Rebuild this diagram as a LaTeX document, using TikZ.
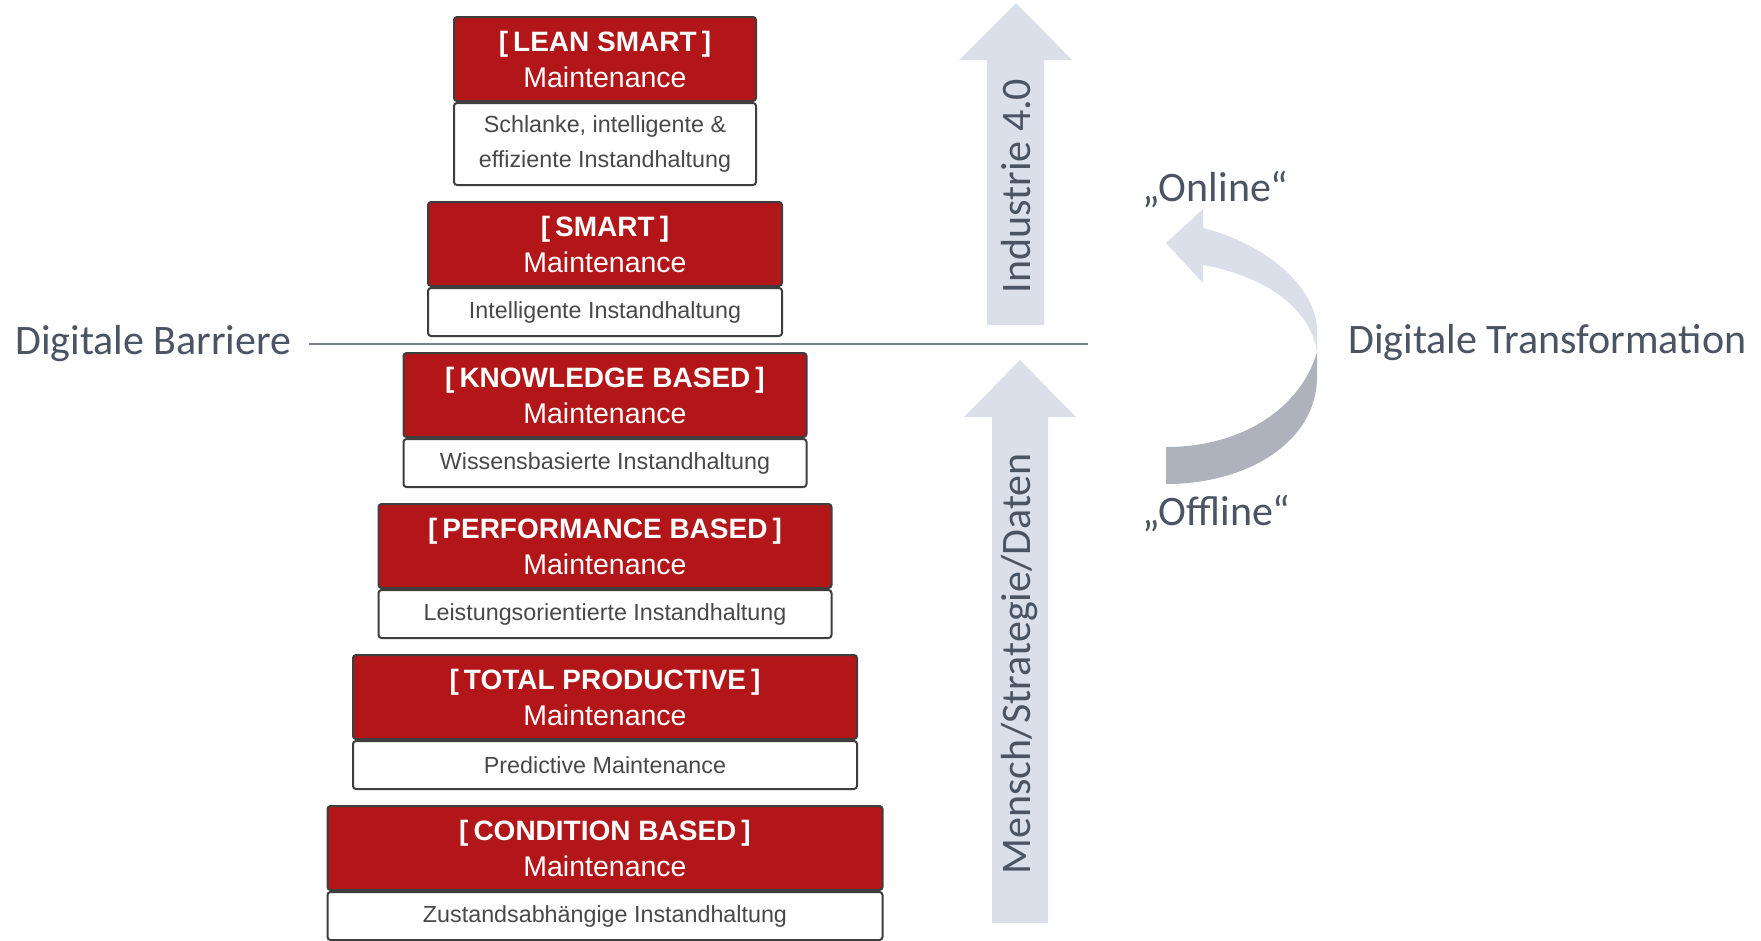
\documentclass[tikz,border=0pt]{standalone}
\usepackage{fontspec}
\setmainfont{Liberation Sans}
\newfontfamily\labelfont{Carlito}
\usepackage{tikz}

\definecolor{maintred}{RGB}{178,22,24}
\definecolor{boxline}{RGB}{62,62,62}
\definecolor{subtext}{RGB}{72,72,72}
\definecolor{labeltext}{RGB}{74,84,99}
\definecolor{arrowlight}{RGB}{218,223,233}
\definecolor{arrowdark}{RGB}{173,178,188}
\definecolor{barrierline}{RGB}{120,128,140}

\newcommand{\tiertitle}[1]{{\fontsize{28}{36}\selectfont\bfseries[\hspace{0.18em}#1\hspace{0.18em}]}}

\begin{document}
\begin{tikzpicture}[x=1pt,y=-1pt,
    redbox/.style={draw=boxline, line width=2pt, fill=maintred, rounded corners=3pt,
      text=white, align=center, inner sep=0pt, minimum height=84pt,
      font=\fontsize{28.5}{36}\selectfont},
    subbox/.style={draw=boxline, line width=2pt, fill=white, rounded corners=3pt,
      text=subtext, align=center, inner sep=0pt,
      font=\fontsize{23.3}{35}\selectfont},
    lbl/.style={text=labeltext, inner sep=0pt, font=\labelfont\fontsize{42}{50}\selectfont}]
    \useasboundingbox (0,0) rectangle (1761,940);
    \fill[white] (0,0) rectangle (1761,940);

    \node[redbox, minimum width=302pt] (red1) at (605,59) {\tiertitle{LEAN SMART}\\Maintenance};
    \node[subbox, minimum width=302pt, minimum height=82pt, anchor=north] (sub1) at (red1.south)
        {Schlanke, intelligente \&\\effiziente Instandhaltung};
    \foreach \i/\w/\t/\tier/\sub in {2/354/202/SMART/Intelligente Instandhaltung,
        3/403/353/KNOWLEDGE BASED/Wissensbasierte Instandhaltung,
        4/453/504/PERFORMANCE BASED/Leistungsorientierte Instandhaltung,
        5/504/655/TOTAL PRODUCTIVE/Predictive Maintenance,
        6/555/806/CONDITION BASED/Zustandsabhängige Instandhaltung}{
        \node[redbox, minimum width=\w pt] (red\i) at (605,\t+42) {\tiertitle{\tier}\\Maintenance};
        \node[subbox, minimum width=\w pt, minimum height=48pt, anchor=north] (sub\i) at (red\i.south) {\sub};
    }

    \fill[arrowlight] (987,325) -- (987,60) -- (959,60) -- (1016,3) -- (1072,60) -- (1044,60) -- (1044,325) -- cycle;
    \fill[arrowlight] (992,923) -- (992,417) -- (964,417) -- (1020,360) -- (1076,417) -- (1048,417) -- (1048,923) -- cycle;
    \node[lbl, rotate=90] (industrie) at (1016,186) {Industrie 4.0};
    \node[lbl, rotate=90] (mensch) at (1020,664) {Mensch/Strategie/Daten};

    \fill[arrowlight] (1203,265) -- (1203,283) -- (1166,243) -- (1203,209) -- (1203,228)
        .. controls (1270,245) and (1317,290) .. (1317,330) -- (1317,352)
        .. controls (1310,305) and (1260,275) .. (1203,265) -- cycle;
    \fill[arrowdark] (1317,352) -- (1317,377)
        .. controls (1317,440) and (1250,484) .. (1166,484) -- (1166,447)
        .. controls (1240,447) and (1300,410) .. (1317,352) -- cycle;

    \node[lbl, anchor=west] (barriere) at (15,344) {Digitale Barriere};
    \coordinate (barriereEnd) at (1088,344);
    \draw[barrierline, line width=2pt] ([xshift=17pt]barriere.east) -- (barriereEnd);
    \node[lbl, anchor=west] (transformation) at (1348,343) {Digitale Transformation};
    \node[lbl, anchor=west] (online) at (1142,189) {„Online“};
    \node[lbl, anchor=west] (offline) at (1142,513) {„Offline“};
\end{tikzpicture}
\end{document}
